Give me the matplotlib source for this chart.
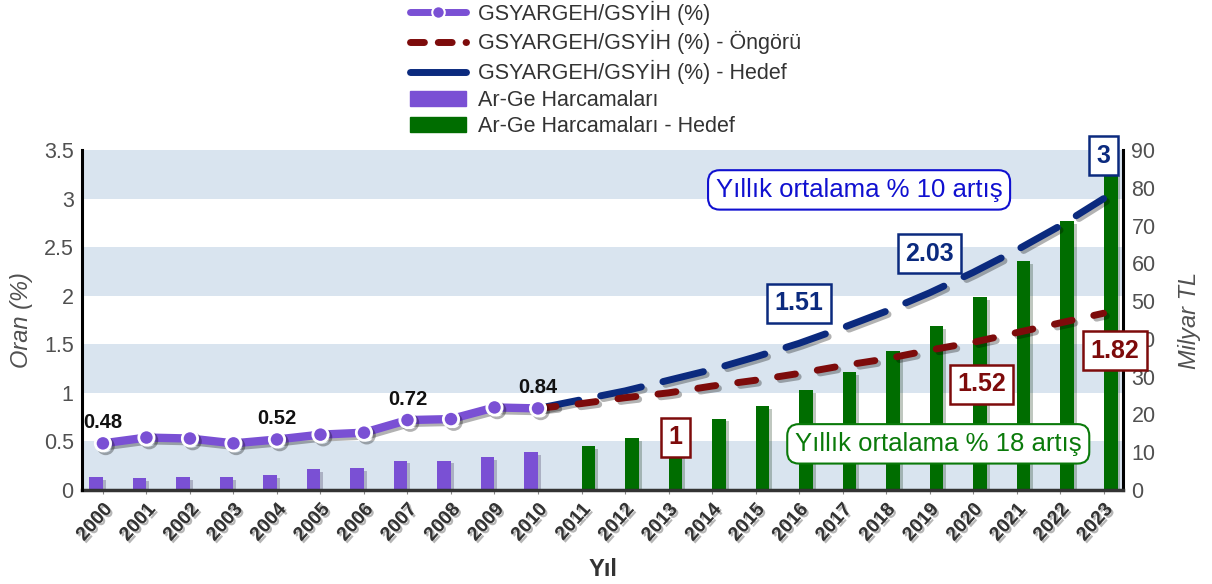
import matplotlib
matplotlib.use('Agg')
import matplotlib.pyplot as plt
import matplotlib.patheffects as pe
from matplotlib.lines import Line2D
from matplotlib.patches import Patch
import numpy as np

plt.rcParams['font.family'] = ['Liberation Sans', 'DejaVu Sans']

# data
years = list(range(2000, 2024))
ratio_hist = [0.48, 0.54, 0.53, 0.48, 0.52, 0.57, 0.59, 0.72, 0.73, 0.85, 0.84]
ratio_forecast = [0.84, 0.89, 0.95, 1.00, 1.07, 1.13, 1.20, 1.28, 1.35, 1.44, 1.52, 1.62, 1.72, 1.82]
ratio_target = [0.84, 0.93, 1.02, 1.13, 1.24, 1.37, 1.51, 1.67, 1.84, 2.03, 2.24, 2.47, 2.72, 3.00]
spend_hist = [3.4, 3.1, 3.4, 3.5, 4.0, 5.5, 5.8, 7.8, 7.8, 8.7, 10.0]
spend_target = [11.6, 13.8, 16.3, 18.9, 22.2, 26.4, 31.2, 36.7, 43.3, 51.1, 60.5, 71.1, 84.0]

hist_labels = {2000: '0.48', 2004: '0.52', 2007: '0.72', 2010: '0.84'}
forecast_labels = {2013: '1', 2020: '1.52', 2023: '1.82'}
target_labels = {2016: '1.51', 2019: '2.03', 2023: '3'}

PURPLE = '#7a50d4'
GREEN = '#006d00'
NAVY = '#0b2a7e'
DRED = '#7d0b0b'
BAND = '#d9e4ef'
GREY = '#505050'

x = np.arange(len(years))
x_hist = x[:len(ratio_hist)]
x_fc = x[len(ratio_hist) - 1:]
x_tgt = x[len(spend_hist):]

fig = plt.figure(figsize=(12.12, 5.84), dpi=100)
ax_bar = fig.add_axes([0.0677, 0.161, 0.859, 0.582])
ax = ax_bar.twinx()

# background bands (every other 0.5 step of the left axis)
for k in range(0, 7, 2):
    ax_bar.axhspan(k * 90 / 7, (k + 1) * 90 / 7, color=BAND, zorder=0, lw=0)

shadow_bar = [pe.SimplePatchShadow(offset=(2, -2), alpha=0.25), pe.Normal()]
bw = 0.32
ax_bar.bar(x_hist, spend_hist, width=-bw, align='edge', color=PURPLE,
           zorder=2, path_effects=shadow_bar)
ax_bar.bar(x_tgt, spend_target, width=bw, align='edge', color=GREEN,
           zorder=2, path_effects=shadow_bar)
ax_bar.set_ylim(0, 90)
ax_bar.set_xlim(-0.48, 23.45)

shadow_line = [pe.SimpleLineShadow(offset=(2, -2), alpha=0.3), pe.Normal()]
ax.plot(x_fc, ratio_target, color=NAVY, lw=5, dashes=(6, 3.2),
        dash_capstyle='round', path_effects=shadow_line, zorder=3)
ax.plot(x_fc, ratio_forecast, color=DRED, lw=5, dashes=(2.6, 3.2),
        dash_capstyle='round', path_effects=shadow_line, zorder=3)
ax.plot(x_hist, ratio_hist, color=PURPLE, lw=6, marker='o', ms=11,
        mfc=PURPLE, mec='white', mew=2, solid_capstyle='round',
        path_effects=shadow_line, zorder=4)
ax.set_ylim(0, 3.5)

for yr, txt in hist_labels.items():
    i = years.index(yr)
    ax.annotate(txt, (x[i], ratio_hist[i]), xytext=(0, 15), textcoords='offset points',
                ha='center', va='center', fontsize=14.5, fontweight='bold', color='#111111',
                zorder=6)

box_pos_fc = {2013: (5, -32), 2020: (6, -30), 2023: (8, -27)}
for yr, txt in forecast_labels.items():
    i = yr - 2010
    dx, dy = box_pos_fc[yr]
    ax.annotate(txt, (x_fc[i], ratio_forecast[i]), xytext=(dx, dy), textcoords='offset points',
                ha='center', va='center', fontsize=18, fontweight='bold', color=DRED,
                bbox=dict(boxstyle='square,pad=0.3', fc='white', ec=DRED, lw=1.8),
                zorder=6, annotation_clip=False)

box_pos_tgt = {2016: (0, 29), 2019: (0, 28), 2023: (0, 31)}
for yr, txt in target_labels.items():
    i = yr - 2010
    dx, dy = box_pos_tgt[yr]
    ax.annotate(txt, (x_fc[i], ratio_target[i]), xytext=(dx, dy), textcoords='offset points',
                ha='center', va='center', fontsize=18, fontweight='bold', color=NAVY,
                bbox=dict(boxstyle='square,pad=0.3', fc='white', ec=NAVY, lw=1.8),
                zorder=6, annotation_clip=False)

ax.text(17.38, 3.09, 'Yıllık ortalama % 10 artış', ha='center', va='center',
        fontsize=18.5, color='#1010d0', zorder=6,
        bbox=dict(boxstyle='round,pad=0.3,rounding_size=0.45', fc='white', ec='#1010d0', lw=1.5))
ax.text(19.2, 0.475, 'Yıllık ortalama % 18 artış', ha='center', va='center',
        fontsize=18.5, color='#0a7a0a', zorder=6,
        bbox=dict(boxstyle='round,pad=0.3,rounding_size=0.45', fc='white', ec='#0a7a0a', lw=1.5))

# axes styling
ax.yaxis.tick_left()
ax.yaxis.set_label_position('left')
ax_bar.yaxis.tick_right()
ax_bar.yaxis.set_label_position('right')
ax.set_yticks(np.arange(0, 3.51, 0.5))
ax.set_yticklabels(['0', '0.5', '1', '1.5', '2', '2.5', '3', '3.5'])
ax_bar.set_yticks(np.arange(0, 91, 10))
ax.tick_params(axis='y', length=0, labelsize=15.5, labelcolor=GREY, pad=6)
ax_bar.tick_params(axis='y', length=0, labelsize=15.5, labelcolor=GREY, pad=6)
ax_bar.set_xticks(x)
ax_bar.set_xticklabels([str(y) for y in years], rotation=48, ha='right', va='top',
                       rotation_mode='anchor', fontsize=14, fontweight='bold', color='#333333')
for lab in ax_bar.get_xticklabels():
    lab.set_path_effects([pe.withSimplePatchShadow(offset=(1.5, -1.5), alpha=0.3)])
ax_bar.tick_params(axis='x', length=3, color='#888888', pad=5)

for a in (ax, ax_bar):
    a.spines['top'].set_visible(False)
ax.spines['right'].set_visible(False)
ax.spines['bottom'].set_visible(False)
ax_bar.spines['left'].set_visible(False)
ax.spines['left'].set_linewidth(2.2)
ax.spines['left'].set_color('black')
ax_bar.spines['right'].set_linewidth(2.2)
ax_bar.spines['right'].set_color('black')
ax_bar.spines['bottom'].set_linewidth(2.5)
ax_bar.spines['bottom'].set_color('#333333')

ax.set_ylabel('Oran (%)', fontsize=17, style='italic', color=GREY, labelpad=8)
ax_bar.set_ylabel('Milyar TL', fontsize=17, style='italic', color=GREY, labelpad=16)
ax_bar.set_xlabel('Yıl', fontsize=17, fontweight='bold', color='#333333', labelpad=10)

handles = [
    Line2D([], [], color=PURPLE, lw=5, marker='o', ms=9, mfc=PURPLE, mec='white', mew=1.5,
           solid_capstyle='round'),
    Line2D([], [], color=DRED, lw=5, dashes=(2, 2), dash_capstyle='round'),
    Line2D([], [], color=NAVY, lw=5, solid_capstyle='round'),
    Patch(color=PURPLE),
    Patch(color=GREEN),
]
labels = ['GSYARGEH/GSYİH (%)', 'GSYARGEH/GSYİH (%) - Öngörü', 'GSYARGEH/GSYİH (%) - Hedef',
          'Ar-Ge Harcamaları', 'Ar-Ge Harcamaları - Hedef']
fig.legend(handles, labels, loc='upper left', bbox_to_anchor=(0.326, 1.025), frameon=False,
           fontsize=15.5, handlelength=2.6, handletextpad=0.55, labelspacing=0.26,
           labelcolor='#333333', borderpad=0.2)

fig.savefig('out.png', dpi=100)
